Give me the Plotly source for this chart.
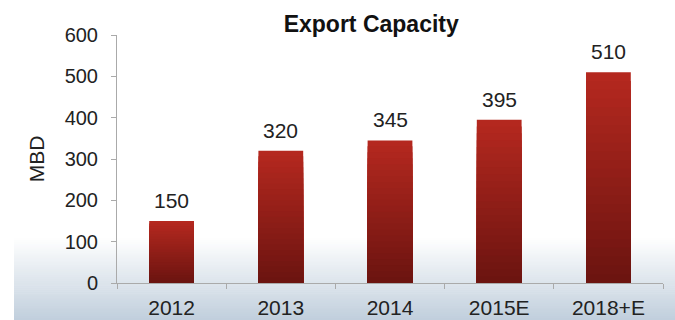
import plotly.graph_objects as go

categories = ["2012", "2013", "2014", "2015E", "2018+E"]
values = [150, 320, 345, 395, 510]
y_ticks = [0, 100, 200, 300, 400, 500, 600]

FONT = "Liberation Sans, Arial, sans-serif"
TOP = (180, 40, 31)
BOT = (108, 20, 16)
N = 24

fig = go.Figure()

for k in range(N):
    t = k / (N - 1)
    c = tuple(int(round(TOP[i] + (BOT[i] - TOP[i]) * t)) for i in range(3))
    fig.add_trace(go.Bar(
        x=categories,
        y=[v * (N - k) / N for v in values],
        marker=dict(color="rgb(%d,%d,%d)" % c, line=dict(width=0)),
        hoverinfo="skip",
        showlegend=False,
    ))

for i, v in enumerate(values):
    fig.add_annotation(x=i, y=v, text=str(v), showarrow=False,
                       yanchor="bottom", yshift=7,
                       font=dict(family=FONT, size=21, color="#222"))

# background gradient at the bottom (paper coordinates)
L, R, T, B = 117, 12, 35, 37
W, H = 675, 320
pw, ph = W - L - R, H - T - B
def px_to_paper_x(px):
    return (px - L) / pw
def px_to_paper_y(py):
    return (H - B - py) / ph

shapes = []
y_start, y_end = 238, 320
M = 40
for i in range(M):
    a = y_start + (y_end - y_start) * i / M
    b = y_start + (y_end - y_start) * (i + 1) / M
    t = (i + 0.5) / M
    c = (int(255 - 62 * t), int(255 - 48 * t), int(255 - 34 * t))
    shapes.append(dict(type="rect", xref="paper", yref="paper",
                       x0=px_to_paper_x(14), x1=px_to_paper_x(W + 2),
                       y0=px_to_paper_y(b + 0.5), y1=px_to_paper_y(a),
                       fillcolor="rgb(%d,%d,%d)" % c, line=dict(width=0),
                       layer="below"))

fig.update_layout(
    width=W, height=H,
    margin=dict(l=L, r=R, t=T, b=B),
    barmode="overlay",
    bargap=0.59,
    paper_bgcolor="white",
    plot_bgcolor="rgba(0,0,0,0)",
    shapes=shapes,
    title=dict(text="<b>Export Capacity</b>", x=0.55, xanchor="center",
               xref="container", y=0.925, yref="container", yanchor="middle",
               font=dict(family=FONT, size=23, color="#111")),
    font=dict(family=FONT, size=20, color="#222"),
)
fig.update_yaxes(range=[0, 600], tickvals=y_ticks, showgrid=False, zeroline=False,
                 showline=True, linecolor="#aaaaaa", linewidth=1,
                 ticks="outside", ticklen=5, tickcolor="#aaaaaa",
                 ticklabelstandoff=9, automargin=False,
                 title=dict(text="MBD", standoff=14, font=dict(size=21)),
                 tickfont=dict(size=20, color="#222"))
fig.update_xaxes(type="category", range=[-0.5, len(categories) - 0.5],
                 showgrid=False, showline=True,
                 linecolor="#aaaaaa", linewidth=1, tickangle=0,
                 ticks="outside", ticklen=5, tickcolor="#aaaaaa",
                 tickson="boundaries", ticklabelstandoff=6, automargin=False,
                 tickfont=dict(size=21, color="#222"))

fig.write_html("out.html")
